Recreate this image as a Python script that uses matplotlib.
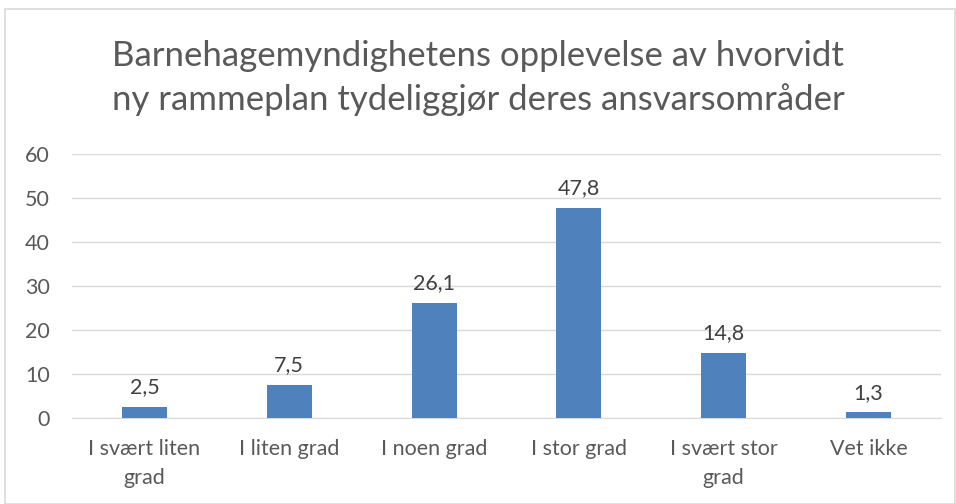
import matplotlib
matplotlib.use("Agg")
import matplotlib.pyplot as plt
from matplotlib.patches import Rectangle

categories = ["I svært liten\ngrad", "I liten grad", "I noen grad", "I stor grad", "I svært stor\ngrad", "Vet ikke"]
values = [2.5, 7.5, 26.1, 47.8, 14.8, 1.3]
labels = ["2,5", "7,5", "26,1", "47,8", "14,8", "1,3"]
yticks = [0, 10, 20, 30, 40, 50, 60]
title = "Barnehagemyndighetens opplevelse av hvorvidt\nny rammeplan tydeliggjør deres ansvarsområder"

plt.rcParams['font.family'] = ['Lato', 'DejaVu Sans']
txt = '#595959'

fig = plt.figure(figsize=(9.56, 5.04), dpi=100)
fig.patches.append(Rectangle((5/956, 0), 950/956, 1 - 9/504, transform=fig.transFigure,
                             fill=False, edgecolor='#d9d9d9', linewidth=1.2))
ax = fig.add_axes([72/956, 1 - 418/504, 869/956, 264/504])
x = list(range(len(categories)))
ax.bar(x, values, width=0.31, color='#4f81bd', zorder=3)
for xi, v, l in zip(x, values, labels):
    ax.text(xi, v + 2.2, l, ha='center', va='bottom', fontsize=15.5, color='#404040')
ax.set_xlim(-0.5, len(categories) - 0.5)
ax.set_ylim(0, 60)
ax.set_yticks(yticks)
ax.set_yticklabels([str(t) for t in yticks], fontsize=15.5, color=txt)
ax.set_xticks(x)
ax.set_xticklabels(categories, fontsize=15.5, color=txt, linespacing=1.55)
ax.tick_params(axis='x', length=0, pad=15)
ax.tick_params(axis='y', length=0, pad=16)
ax.grid(axis='y', color='#d9d9d9', linewidth=1, zorder=0)
for s in ['top', 'right', 'left']:
    ax.spines[s].set_visible(False)
ax.spines['bottom'].set_color('#d9d9d9')
fig.text(0.5, 1 - 78/504, title, ha='center', va='center', fontsize=25, color=txt, linespacing=1.45)
fig.savefig('out.png', dpi=100)
